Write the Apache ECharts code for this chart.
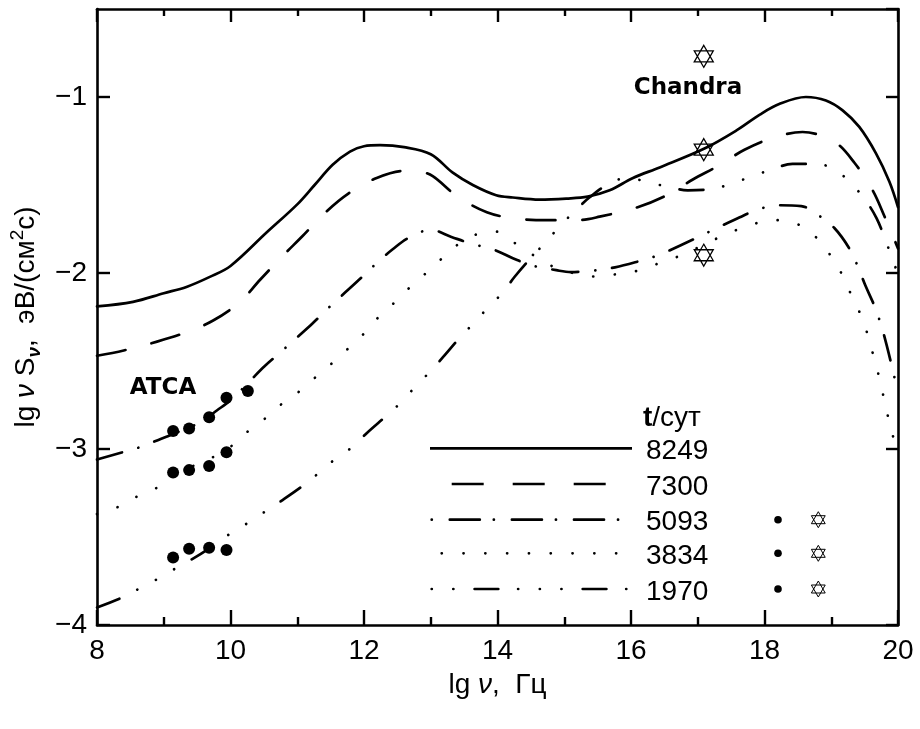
<!DOCTYPE html>
<html><head><meta charset="utf-8">
<script src="https://cdn.jsdelivr.net/npm/echarts@6/dist/echarts.min.js"></script>
<style>html,body{margin:0;padding:0;background:#fff}#c{width:920px;height:729px}</style>
</head><body><div id="c"></div>
<script>
// ---- data (lg nu, lg nuS_nu) ----
const epochs = ['8249', '7300', '5093', '3834', '1970'];
const curve8249 = [[8,-2.19],[8.54,-2.164],[9.0,-2.115],[9.34,-2.079],[9.69,-2.022],[10.0,-1.96],[10.54,-1.77],[11.0,-1.61],[11.26,-1.50],[11.53,-1.385],[11.79,-1.31],[12.0,-1.28],[12.24,-1.274],[12.6,-1.285],[13.0,-1.325],[13.33,-1.43],[13.63,-1.50],[13.98,-1.558],[14.23,-1.571],[14.63,-1.583],[15.03,-1.577],[15.35,-1.566],[15.68,-1.53],[16.03,-1.46],[16.43,-1.40],[17.1,-1.293],[17.58,-1.19],[17.93,-1.10],[18.22,-1.04],[18.62,-1.0],[18.92,-1.02],[19.17,-1.076],[19.42,-1.17],[19.67,-1.32],[19.87,-1.48],[20,-1.625]];
const curve7300 = [[8,-2.47],[8.4,-2.44],[8.9,-2.39],[9.35,-2.335],[9.74,-2.27],[10.14,-2.165],[10.44,-2.04],[10.79,-1.90],[11.08,-1.79],[11.41,-1.66],[11.76,-1.55],[12.19,-1.46],[12.6,-1.42],[12.85,-1.425],[13.03,-1.45],[13.4,-1.565],[13.84,-1.655],[14.26,-1.69],[14.75,-1.70],[15.19,-1.70],[15.53,-1.68],[16.1,-1.626],[16.53,-1.559],[16.92,-1.47],[17.33,-1.386],[17.7,-1.30],[18.15,-1.229],[18.57,-1.199],[19.05,-1.256],[19.35,-1.375],[19.62,-1.53],[19.8,-1.68],[20,-1.86]];
const curve5093 = [[8,-3.06],[8.37,-3.02],[8.64,-2.99],[8.91,-2.95],[9.14,-2.915],[9.54,-2.85],[9.8,-2.78],[10.04,-2.71],[10.3,-2.61],[10.51,-2.53],[10.78,-2.44],[11.0,-2.365],[11.22,-2.29],[11.49,-2.19],[11.72,-2.11],[11.95,-2.03],[12.2,-1.94],[12.43,-1.865],[12.67,-1.80],[13.0,-1.755],[13.31,-1.795],[13.58,-1.83],[13.96,-1.87],[14.23,-1.916],[14.5,-1.956],[14.88,-1.984],[15.1,-1.995],[15.39,-1.988],[15.76,-1.968],[16.11,-1.934],[16.4,-1.90],[16.73,-1.845],[17.0,-1.797],[17.28,-1.746],[17.63,-1.683],[17.88,-1.643],[18.18,-1.615],[18.55,-1.62],[18.8,-1.67],[19.05,-1.746],[19.27,-1.86],[19.39,-1.956],[19.51,-2.07],[19.65,-2.19],[19.75,-2.30],[19.83,-2.41],[19.92,-2.55],[20,-2.68]];
const curve3834 = [[8,-3.37],[8.31,-3.33],[8.6,-3.27],[8.9,-3.22],[9.14,-3.16],[9.42,-3.10],[9.72,-3.05],[9.99,-2.99],[10.26,-2.90],[10.54,-2.82],[10.78,-2.74],[11.04,-2.67],[11.28,-2.59],[11.53,-2.51],[11.76,-2.43],[12.01,-2.34],[12.22,-2.25],[12.45,-2.17],[12.69,-2.08],[12.93,-2.0],[13.16,-1.92],[13.4,-1.84],[13.69,-1.78],[14.0,-1.765],[14.26,-1.83],[14.81,-1.96],[15.13,-2.0],[15.43,-2.02],[15.72,-2.01],[16.07,-1.99],[16.38,-1.95],[16.68,-1.91],[16.98,-1.86],[17.25,-1.81],[17.55,-1.76],[17.85,-1.72],[18.18,-1.70],[18.48,-1.72],[18.78,-1.80],[18.97,-1.89],[19.15,-2.0],[19.27,-2.10],[19.41,-2.21],[19.52,-2.32],[19.61,-2.44],[19.69,-2.55],[19.77,-2.68],[19.84,-2.80],[19.92,-2.92],[20,-3.04]];
const curve1970 = [[8,-3.90],[8.34,-3.85],[8.6,-3.80],[8.9,-3.74],[9.17,-3.68],[9.42,-3.627],[9.66,-3.57],[9.96,-3.49],[10.26,-3.42],[10.54,-3.35],[10.78,-3.29],[11.08,-3.21],[11.31,-3.14],[11.56,-3.06],[11.82,-2.99],[12.04,-2.91],[12.34,-2.81],[12.54,-2.74],[12.76,-2.65],[12.99,-2.56],[13.18,-2.48],[13.43,-2.37],[13.63,-2.29],[13.85,-2.20],[14.08,-2.11],[14.26,-2.02],[14.51,-1.91],[14.71,-1.83],[14.92,-1.74],[15.14,-1.655],[15.38,-1.57],[15.68,-1.49],[15.95,-1.46],[16.25,-1.484],[16.55,-1.51],[16.85,-1.53],[17.25,-1.52],[17.52,-1.49],[17.82,-1.45],[18.12,-1.41],[18.42,-1.38],[18.79,-1.38],[19.08,-1.42],[19.32,-1.50],[19.52,-1.59],[19.68,-1.69],[19.83,-1.83],[19.92,-1.93],[20,-2.0]];
// ATCA radio points
const atca5093 = [[9.14,-2.898],[9.38,-2.883],[9.68,-2.82],[9.94,-2.709],[10.26,-2.67]];
const atca3834 = [[9.14,-3.133],[9.38,-3.12],[9.68,-3.097],[9.94,-3.019]];
const atca1970 = [[9.14,-3.616],[9.38,-3.567],[9.68,-3.561],[9.94,-3.574]];
// Chandra X-ray points
const chandra5093 = [[17.09,-0.769]];
const chandra3834 = [[17.09,-1.299]];
const chandra1970 = [[17.09,-1.899]];
const xTickLabels = ['8','10','12','14','16','18','20'];
const yTickLabels = ['−4','−3','−2','−1'];

// ---- styles ----
const FONT = 'Liberation Sans';
const LW = 2.7;
const dashes = {
  '8249': null,
  '7300': [29, 27],
  '5093': [26, 17, 0.1, 17],
  '3834': [0.1, 21.5],
  '1970': [24, 20, 0.1, 21, 0.1, 21, 0.1, 20]
};
const curves = {'8249': curve8249, '7300': curve7300, '5093': curve5093, '3834': curve3834, '1970': curve1970};
const star = 'path://M0,-10L8.66,5L-8.66,5Z M0,10L8.66,-5L-8.66,-5Z';

const series = epochs.map(e => ({
  type: 'line', name: e, data: curves[e], showSymbol: false, symbol: 'none',
  smooth: 0.35, xAxisIndex: 0, yAxisIndex: 0,
  lineStyle: {color: '#000', width: LW, type: dashes[e] || 'solid', cap: 'round', join: 'round', opacity: 1},
  z: 2, silent: true
}));
[atca5093, atca3834, atca1970].forEach(d => series.push({
  type: 'scatter', data: d, symbol: 'circle', symbolSize: 12,
  itemStyle: {color: '#000', opacity: 1}, z: 5, silent: true
}));
[chandra5093, chandra3834, chandra1970].forEach(d => series.push({
  type: 'scatter', data: d, symbol: star, symbolSize: [19, 22],
  itemStyle: {color: 'rgba(0,0,0,0)', borderColor: '#000', borderWidth: 1.3, opacity: 1}, z: 5, silent: true
}));

// ---- legend drawn as graphics ----
const legendY = [448.3, 484, 519.7, 553.3, 589];
const graphic = [];
const legendLine = {
  '8249': {x1: 430, x2: 632, dash: null, off: 0},
  '7300': {x1: 451.7, x2: 607, dash: [32, 29], off: 0, cap: 'butt'},
  '5093': {x1: 431.7, x2: 624, dash: [0.1, 18, 30, 14], off: 0, cap: 'round'},
  '3834': {x1: 441.7, x2: 620, dash: [0.1, 21.7], off: 0, cap: 'round'},
  '1970': {x1: 431.7, x2: 631, dash: [23.7, 19.8, 0.1, 21.6, 0.1, 21.5, 0.1, 21.2], off: 65.2, cap: 'round'}
};
epochs.forEach((e, i) => {
  const L = legendLine[e];
  graphic.push({type: 'line', shape: {x1: L.x1, y1: legendY[i], x2: L.x2, y2: legendY[i]},
    style: {stroke: '#000', lineWidth: LW, lineDash: L.dash, lineDashOffset: L.off, lineCap: L.cap || 'butt'}, silent: true});
  graphic.push({type: 'text', x: 646, y: legendY[i] + 3,
    style: {text: e, fontFamily: FONT, fontSize: 28, fill: '#000', textAlign: 'left', textVerticalAlign: 'middle'}, silent: true});
  if (i >= 2) {
    graphic.push({type: 'circle', shape: {cx: 778, cy: legendY[i], r: 3.8}, style: {fill: '#000'}, silent: true});
    const cx = 818.3, cy = legendY[i], r = 8;
    graphic.push({type: 'polygon', shape: {points: [[cx, cy - r], [cx + 0.866 * r, cy + 0.5 * r], [cx - 0.866 * r, cy + 0.5 * r]]},
      style: {fill: 'none', stroke: '#000', lineWidth: 1}, silent: true});
    graphic.push({type: 'polygon', shape: {points: [[cx, cy + r], [cx + 0.866 * r, cy - 0.5 * r], [cx - 0.866 * r, cy - 0.5 * r]]},
      style: {fill: 'none', stroke: '#000', lineWidth: 1}, silent: true});
  }
});
graphic.push({type: 'text', x: 643, y: 418,
  style: {text: '{b|t}/сут', fontFamily: FONT, fontSize: 28, fill: '#000', textAlign: 'left', textVerticalAlign: 'middle',
    rich: {b: {fontFamily: FONT, fontSize: 28, fontWeight: 'bold', fill: '#000'}}}, silent: true});
graphic.push({type: 'text', x: 688, y: 88,
  style: {text: 'Chandra', fontFamily: 'DejaVu Sans', fontSize: 23, fontWeight: 'bold', fill: '#000', textAlign: 'center', textVerticalAlign: 'middle'}, silent: true});
graphic.push({type: 'text', x: 163, y: 388,
  style: {text: 'ATCA', fontFamily: 'DejaVu Sans', fontSize: 23, fontWeight: 'bold', fill: '#000', textAlign: 'center', textVerticalAlign: 'middle'}, silent: true});

const axisLine = {show: true, onZero: false, lineStyle: {color: '#000', width: 2.6}};
const fmtY = v => (Math.abs(v - Math.round(v)) > 1e-6) ? '' : yTickLabels[Math.round(v) + 4];
const fmtX = v => (Math.abs(v % 2) > 1e-6) ? '' : xTickLabels[(v - 8) / 2];

const option = {
  animation: false,
  backgroundColor: '#fff',
  grid: {left: 97, right: 22, top: 9, bottom: 104, containLabel: false},
  xAxis: [
    {type: 'value', min: 8, max: 20, interval: 2, position: 'bottom',
     axisLine, splitLine: {show: false},
     axisTick: {show: true, inside: true, length: 15, lineStyle: {color: '#000', width: 2.4}},
     minorTick: {show: true, splitNumber: 2, length: 8, lineStyle: {color: '#000', width: 2.4}},
     axisLabel: {formatter: fmtX, fontFamily: FONT, fontSize: 28, color: '#000', margin: 12},
     name: 'lg {i|ν},  Гц', nameLocation: 'middle', nameGap: 46,
     nameTextStyle: {fontFamily: FONT, fontSize: 28, color: '#000', rich: {i: {fontFamily: FONT, fontSize: 28, fontStyle: 'italic', color: '#000'}}}},
    {type: 'value', min: 8, max: 20, interval: 2, position: 'top',
     axisLine, splitLine: {show: false},
     axisTick: {show: true, inside: true, length: 13, lineStyle: {color: '#000', width: 2.4}},
     minorTick: {show: true, splitNumber: 2, length: 7, lineStyle: {color: '#000', width: 2.4}},
     axisLabel: {show: false}}
  ],
  yAxis: [
    {type: 'value', min: -4, max: -0.5, interval: 1, position: 'left',
     axisLine, splitLine: {show: false},
     axisTick: {show: true, inside: true, length: 13, lineStyle: {color: '#000', width: 2.4}},
     axisLabel: {formatter: fmtY, fontFamily: FONT, fontSize: 28, color: '#000', margin: 10, showMaxLabel: false},
     name: 'lg {i|ν} S{sub|ν},  эВ/(см{sup|2}с)', nameLocation: 'middle', nameGap: 52,
     nameTextStyle: {fontFamily: FONT, fontSize: 28, color: '#000', lineHeight: 36,
       rich: {
         i: {fontFamily: FONT, fontSize: 28, fontStyle: 'italic', color: '#000', lineHeight: 36},
         sub: {fontFamily: FONT, fontSize: 19, fontStyle: 'italic', fontWeight: 'bold', color: '#000', lineHeight: 19, verticalAlign: 'bottom'},
         sup: {fontFamily: FONT, fontSize: 19, color: '#000', lineHeight: 19, verticalAlign: 'top'}
       }}},
    {type: 'value', min: -4, max: -0.5, interval: 1, position: 'right',
     axisLine, splitLine: {show: false},
     axisTick: {show: true, inside: true, length: 12, lineStyle: {color: '#000', width: 2.4}},
     axisLabel: {show: false}}
  ],
  series,
  graphic
};
const chart = echarts.init(document.getElementById('c'), null, {renderer: 'canvas'});
chart.setOption(option);
</script>
</body></html>
